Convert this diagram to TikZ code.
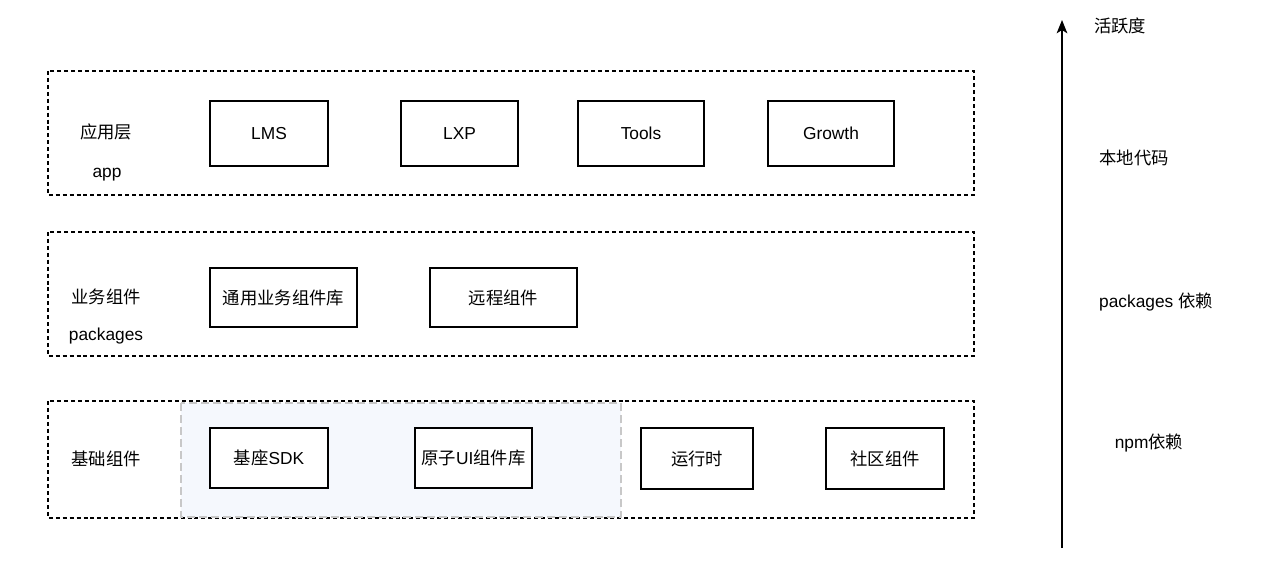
\documentclass[tikz,border=0pt]{standalone}
\usepackage{fontspec}
\usetikzlibrary{arrows.meta}
\setmainfont{Liberation Sans}
\newfontfamily\cjk{Noto Sans CJK SC}
\begin{document}
\begin{tikzpicture}[x=0.75pt,y=-0.75pt,
  layerbox/.style={draw=black,line width=0.9pt,dash pattern=on 3pt off 2.2pt},
  compbox/.style={draw=black,line width=0.9pt,fill=white},
  lbl/.style={font=\fontsize{13}{15}\selectfont,inner sep=0pt},
  every node/.style={font=\fontsize{13}{15}\selectfont}]
\useasboundingbox (0,0) rectangle (1274,574);
% layers
\draw[layerbox] (48,71) rectangle (974,195);
\draw[layerbox] (48,232) rectangle (974,356);
\draw[layerbox] (48,401) rectangle (974,518);
\fill[fill={rgb,255:red,245;green,248;blue,253}] (181,403) rectangle (621,517);
\draw[draw={rgb,255:red,200;green,200;blue,200},line width=0.9pt,dash pattern=on 6pt off 3pt] (181,403) rectangle (621,517);
% labels
\node[lbl] (l1) at (106,132) {\cjk 应用层};
\node[lbl] (l1b) at (107,175) {app};
\node[lbl] (l2) at (106,297) {\cjk 业务组件};
\node[lbl] (l2b) at (106,336) {packages};
\node[lbl] (l3) at (106,459) {\cjk 基础组件};
% components
\draw[compbox] (210,101) rectangle (328,166); \node (lms) at (269,133.5) {LMS};
\draw[compbox] (401,101) rectangle (518,166); \node (lxp) at (459.5,133.5) {LXP};
\draw[compbox] (578,101) rectangle (704,166); \node (tools) at (641,133.5) {Tools};
\draw[compbox] (768,101) rectangle (894,166); \node (growth) at (831,133.5) {Growth};
\draw[compbox] (210,268) rectangle (357,327); \node (tyyw) at (283.5,297.5) {\cjk 通用业务组件库};
\draw[compbox] (430,268) rectangle (577,327); \node (yc) at (503.5,297.5) {\cjk 远程组件};
\draw[compbox] (210,428) rectangle (328,488); \node (sdk) at (269,458) {{\cjk 基座}SDK};
\draw[compbox] (415,428) rectangle (532,488); \node (ui) at (473.5,458) {{\cjk 原子}UI{\cjk 组件库}};
\draw[compbox] (641,428) rectangle (753,489); \node (rt) at (697,458.5) {\cjk 运行时};
\draw[compbox] (826,428) rectangle (944,489); \node (sq) at (885,458.5) {\cjk 社区组件};
% arrow
\coordinate (abot) at (1062,548);
\coordinate (atop) at (1062,20);
\draw[line width=1pt,-{Stealth[length=10pt,width=8pt,inset=2.5pt]}] (abot) -- (atop);
\node[lbl] (hy) at (1120,26) {\cjk 活跃度};
\node[lbl] (bd) at (1134,158) {\cjk 本地代码};
\node[lbl] (pk) at (1156,302) {packages {\cjk 依赖}};
\node[lbl] (npm) at (1149,443) {npm{\cjk 依赖}};
\end{tikzpicture}
\end{document}
